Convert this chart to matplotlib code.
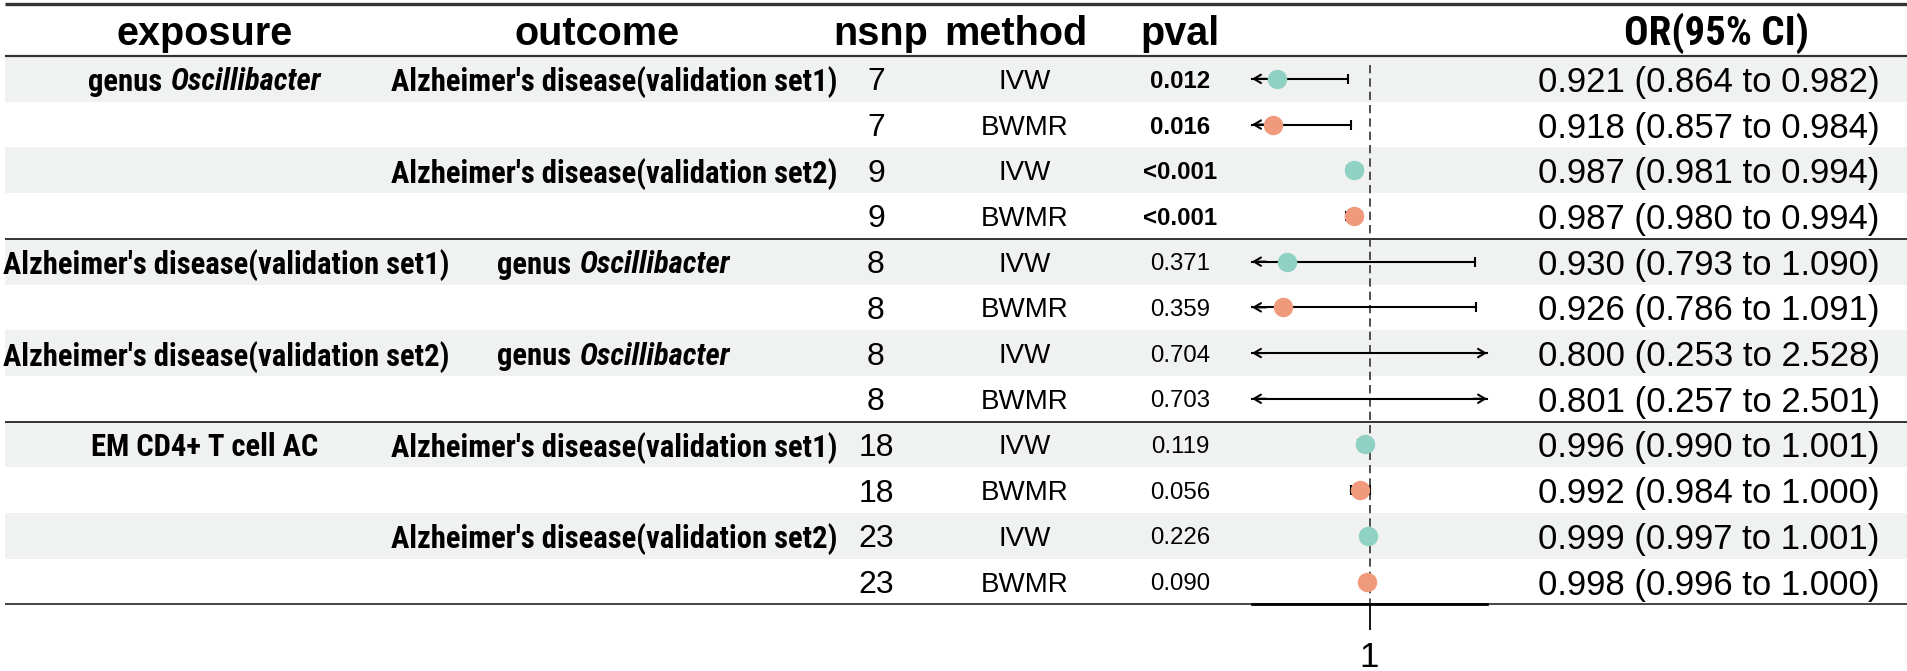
import numpy as np
import matplotlib
matplotlib.use("Agg")
import matplotlib.pyplot as plt
from matplotlib import font_manager
from matplotlib.font_manager import FontProperties
from matplotlib.patches import Rectangle

# ---------------- data ----------------
exposure = ["genus Oscillibacter", "", "", "",
            "Alzheimer's disease(validation set1)", "",
            "Alzheimer's disease(validation set2)", "",
            "EM CD4+ T cell AC", "", "", ""]
outcome = ["Alzheimer's disease(validation set1)", "",
           "Alzheimer's disease(validation set2)", "",
           "genus Oscillibacter", "", "genus Oscillibacter", "",
           "Alzheimer's disease(validation set1)", "",
           "Alzheimer's disease(validation set2)", ""]
nsnp = [7, 7, 9, 9, 8, 8, 8, 8, 18, 18, 23, 23]
method = ["IVW", "BWMR"] * 6
pval = ["0.012", "0.016", "<0.001", "<0.001", "0.371", "0.359",
        "0.704", "0.703", "0.119", "0.056", "0.226", "0.090"]
or_est = [0.921, 0.918, 0.987, 0.987, 0.930, 0.926,
          0.800, 0.801, 0.996, 0.992, 0.999, 0.998]
or_lo = [0.864, 0.857, 0.981, 0.980, 0.793, 0.786,
         0.253, 0.257, 0.990, 0.984, 0.997, 0.996]
or_hi = [0.982, 0.984, 0.994, 0.994, 1.090, 1.091,
         2.528, 2.501, 1.001, 1.000, 1.001, 1.000]
headers = ["exposure", "outcome", "nsnp", "method", "pval", "OR(95% CI)"]
group_breaks = [4, 8]
x_limits = (0.9, 1.1)
ref_value = 1
italic_word = "Oscillibacter"

plt.rcParams["font.family"] = ["Liberation Sans", "DejaVu Sans"]


# ---------------- look for a narrow bold face (the original used one) -------
def is_bold(w):
    if isinstance(w, str):
        return w in ("bold", "heavy", "black", "demibold", "semibold")
    return w >= 600


def find_narrow():
    prefer = ["Liberation Sans Narrow", "Arial Narrow", "Roboto Condensed",
              "Noto Sans", "Open Sans", "DejaVu Sans"]
    found = {}
    for f in font_manager.fontManager.ttflist:
        narrowish = ("Narrow" in f.name or "Condensed" in f.name
                     or f.stretch in ("condensed", "semi-condensed"))
        if not narrowish or not is_bold(f.weight):
            continue
        key = (f.name, f.stretch)
        slot = found.setdefault(key, {})
        slot["italic" if f.style in ("italic", "oblique") else "normal"] = f.fname
    for p in prefer:
        for (name, st), slot in found.items():
            if name.startswith(p.split()[0]) and p.split()[-1] in name + st \
                    and "normal" in slot:
                return slot
    for slot in found.values():
        if "normal" in slot:
            return slot
    return None


slot = find_narrow()
if slot:
    fp_b = FontProperties(fname=slot["normal"])
    fp_bi = FontProperties(fname=slot.get("italic", slot["normal"]))
    if "italic" not in slot:
        fp_bi.set_style("italic")
else:
    fp_b = FontProperties(family="Liberation Sans", weight="bold")
    fp_bi = FontProperties(family="Liberation Sans", weight="bold", style="italic")

# ---------------- layout (pixels) ----------------
W, H = 1907, 671
row_top = 56
row_h = 45.7
n = len(or_est)
row_bot = row_top + n * row_h
yc = row_top + (np.arange(n) + 0.5) * row_h
head_x = [205, 597, 881, 1016, 1180, 1716]
body_x = [205, 614, 876, 1025, 1180, 1709]
shade = "#EFF2F1"
col_ivw = "#8FD1C2"
col_bwmr = "#F09A7C"

fig = plt.figure(figsize=(W / 100, H / 100), dpi=100)
tab = fig.add_axes([0, 0, 1, 1])
tab.set_xlim(0, W)
tab.set_ylim(H, 0)
tab.axis("off")
rend = fig.canvas.get_renderer()


def width_px(s, fp):
    return rend.get_text_width_height_descent(s, fp, ismath=False)[0]


# size the narrow face so the longest label is ~445 px wide
probe = "Alzheimer's disease(validation set1)"
fp_b.set_size(20)
body_size = min(23.0, 20 * 445 / width_px(probe, fp_b))
fp_b.set_size(body_size)
fp_bi.set_size(body_size)

fp_orh = fp_b.copy()
fp_orh.set_size(20)
fp_orh.set_size(min(30.0, 20 * 185 / width_px("OR(95% CI)", fp_orh)))


def cell(x, y, s, fp, fp_it):
    # centred label; the italic word is drawn in its own face
    if italic_word in s:
        head = s.replace(italic_word, "").strip()
        gap = 0.278 * fp.get_size_in_points() / 0.72
        w1 = width_px(head, fp)
        w2 = width_px(italic_word, fp_it)
        left = max(3, x - (w1 + gap + w2) / 2)
        tab.text(left, y, head, fontproperties=fp, ha="left", va="center_baseline")
        tab.text(left + w1 + gap, y, italic_word, fontproperties=fp_it,
                 ha="left", va="center_baseline")
    else:
        w = width_px(s, fp)
        left = max(3, x - w / 2)
        tab.text(left, y, s, fontproperties=fp, ha="left", va="center_baseline")


for i in range(0, n, 2):
    tab.add_patch(Rectangle((5, row_top + i * row_h), W - 5, row_h,
                            color=shade, lw=0, zorder=0))

tab.hlines(4, 5, W, color="#333333", lw=2.4)
tab.hlines(row_top, 5, W, color="#333333", lw=1.6)
for b in group_breaks:
    tab.hlines(row_top + b * row_h, 5, W, color="#333333", lw=1.4)
tab.hlines(row_bot, 5, W, color="#444444", lw=1.4)

# header
for j, h in enumerate(headers):
    if h.startswith("OR"):
        tab.text(head_x[j], 45, h, ha="center", va="baseline",
                 fontproperties=fp_orh)
    else:
        tab.text(head_x[j], 45, h, ha="center", va="baseline",
                 fontsize=28.5, fontweight="bold")

# body
for i in range(n):
    y = yc[i]
    if exposure[i]:
        cell(body_x[0], y, exposure[i], fp_b, fp_bi)
    if outcome[i]:
        cell(body_x[1], y, outcome[i], fp_b, fp_bi)
    tab.text(body_x[2], y, str(nsnp[i]), ha="center", va="center_baseline",
             fontsize=23)
    tab.text(body_x[3], y, method[i], ha="center", va="center_baseline",
             fontsize=20)
    sig = pval[i].startswith("<") or float(pval[i]) < 0.05
    tab.text(body_x[4], y, pval[i], ha="center", va="center_baseline",
             fontsize=17.3, fontweight="bold" if sig else "normal")
    label = f"{or_est[i]:.3f} ({or_lo[i]:.3f} to {or_hi[i]:.3f})"
    tab.text(body_x[5], y, label, ha="center", va="center_baseline",
             fontsize=25)

# ---------------- forest panel ----------------
fx = fig.add_axes([1252 / W, (H - row_bot) / H, 235 / W, (row_bot - row_top) / H])
fx.patch.set_alpha(0)
fx.set_xlim(*x_limits)
fx.set_ylim(n, 0)
for s in ["top", "left", "right"]:
    fx.spines[s].set_visible(False)
fx.spines["bottom"].set_linewidth(2)
fx.set_yticks([])
fx.set_xticks([ref_value])
fx.set_xticklabels([str(ref_value)])
fx.tick_params(axis="x", length=18.7, width=1.3, pad=8, labelsize=25)

fx.vlines(ref_value, 0.2, n, colors="#333333", linestyles=(0, (5, 3)), lw=1.2,
          zorder=1)

xmin, xmax = x_limits
arrow = dict(arrowstyle="->,head_length=0.5,head_width=0.3", lw=1.5,
             color="black", shrinkA=0, shrinkB=0)
for i in range(n):
    y = i + 0.5
    lo = max(or_lo[i], xmin)
    hi = min(or_hi[i], xmax)
    fx.plot([lo, hi], [y, y], color="black", lw=1.5, zorder=2, clip_on=False)
    if or_lo[i] < xmin:
        fx.annotate("", xy=(xmin, y), xytext=(xmin + 0.012, y),
                    arrowprops=arrow, annotation_clip=False)
    else:
        fx.plot(lo, y, marker="|", ms=7, mew=1.5, color="black", clip_on=False)
    if or_hi[i] > xmax:
        fx.annotate("", xy=(xmax, y), xytext=(xmax - 0.012, y),
                    arrowprops=arrow, annotation_clip=False)
    else:
        fx.plot(hi, y, marker="|", ms=7, mew=1.5, color="black", clip_on=False)
    if xmin <= or_est[i] <= xmax:
        c = col_ivw if method[i] == "IVW" else col_bwmr
        fx.plot(or_est[i], y, "o", ms=13, color=c, mec=c, zorder=3,
                clip_on=False)

fig.savefig("out.png", dpi=100)
